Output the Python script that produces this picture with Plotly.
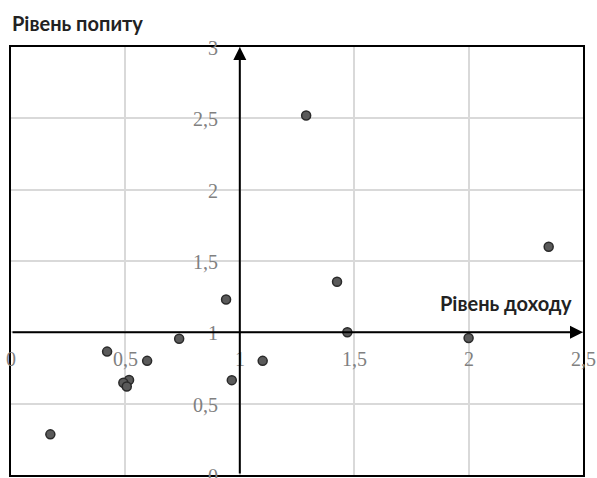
import plotly.graph_objects as go

# Data
income = [1.29, 2.35, 1.425, 0.94, 1.47, 2.0, 0.735, 0.42, 0.595, 1.10, 0.965, 0.516, 0.491, 0.506, 0.172]
demand = [2.52, 1.60, 1.355, 1.23, 1.00, 0.96, 0.955, 0.865, 0.80, 0.80, 0.665, 0.666, 0.647, 0.62, 0.285]

x_ticks = [0, 0.5, 1, 1.5, 2, 2.5]
x_tick_labels = ["0", "0,5", "1", "1,5", "2", "2,5"]
y_ticks = [0, 0.5, 1, 1.5, 2, 2.5, 3]
y_tick_labels = ["0", "0,5", "1", "1,5", "2", "2,5", "3"]

x_title = "Рівень доходу"
y_title = "Рівень попиту"
origin_x, origin_y = 1, 1

fig = go.Figure()
fig.add_trace(go.Scatter(
    x=income, y=demand, mode="markers",
    marker=dict(size=9, color="#5a5a5a", line=dict(color="#2a2a2a", width=1.5)),
    showlegend=False, hoverinfo="skip",
))

tick_font = dict(family="Liberation Serif, Times New Roman, serif", size=20, color="#808080")
annotations = []
for v, t in zip(x_ticks, x_tick_labels):
    annotations.append(dict(x=v, y=origin_y, xref="x", yref="y", text=t, showarrow=False,
                            xanchor="center", yanchor="middle", yshift=-27, font=tick_font))
for v, t in zip(y_ticks, y_tick_labels):
    annotations.append(dict(x=origin_x, y=v, xref="x", yref="y", text=t, showarrow=False,
                            xanchor="right", yanchor="middle", xshift=-20, yshift=-1, font=tick_font))

# axis arrows through the origin
annotations.append(dict(x=origin_x, y=y_ticks[-1], ax=origin_x, ay=y_ticks[0], xref="x", yref="y",
                        axref="x", ayref="y", text="", showarrow=True, arrowhead=2, arrowsize=1.3,
                        arrowwidth=2, arrowcolor="black"))
annotations.append(dict(x=x_ticks[-1], y=origin_y, ax=x_ticks[0], ay=origin_y, xref="x", yref="y",
                        axref="x", ayref="y", text="", showarrow=True, arrowhead=2, arrowsize=1.3,
                        arrowwidth=2, arrowcolor="black"))

title_font = dict(family="Lato, Noto Sans, sans-serif", size=20, color="#222222")
annotations.append(dict(x=0, y=1, xref="paper", yref="paper", text="<b>" + y_title + "</b>",
                        showarrow=False, xanchor="left", yanchor="bottom", xshift=-1, yshift=10,
                        font=title_font))
annotations.append(dict(x=2.46, y=1.205, xref="x", yref="y", text="<b>" + x_title + "</b>",
                        showarrow=False, xanchor="right", yanchor="middle", font=title_font))

fig.update_layout(
    width=597, height=478,
    margin=dict(l=11, r=14, t=47, b=3),
    paper_bgcolor="white", plot_bgcolor="white",
    annotations=annotations,
    xaxis=dict(range=[x_ticks[0], x_ticks[-1]], tickvals=x_ticks, showticklabels=False,
               showgrid=True, gridcolor="#d9d9d9", gridwidth=1.5, zeroline=False,
               showline=True, linecolor="black", linewidth=2, mirror=True, ticks=""),
    yaxis=dict(range=[y_ticks[0], y_ticks[-1]], tickvals=y_ticks, showticklabels=False,
               showgrid=True, gridcolor="#d9d9d9", gridwidth=1.5, zeroline=False,
               showline=True, linecolor="black", linewidth=2, mirror=True, ticks=""),
)
fig.write_html("out.html", config={"displayModeBar": False},
               post_script="document.body.style.margin='0';document.body.style.overflow='hidden';")
